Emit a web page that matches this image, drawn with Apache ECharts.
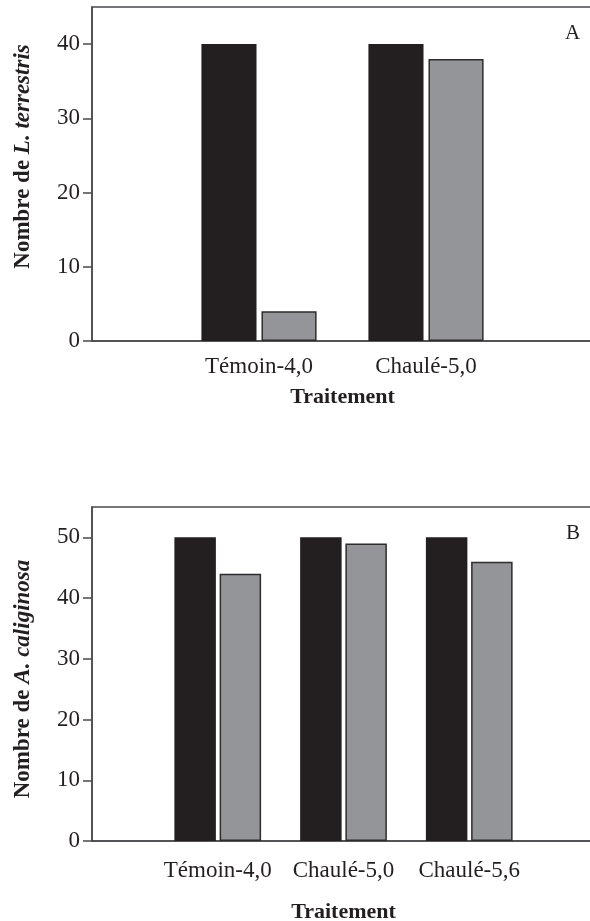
<!DOCTYPE html>
<html>
<head>
<meta charset="utf-8">
<script src="https://cdn.jsdelivr.net/npm/echarts@6/dist/echarts.min.js"></script>
<style>
html,body{margin:0;padding:0;background:#fff;overflow:hidden;}
#chart{width:590px;height:921px;}
</style>
</head>
<body>
<div id="chart"></div>
<script>
// Panel A data
var categoriesA = ['Témoin-4,0', 'Chaulé-5,0'];
var blackA = [40, 40];
var grayA = [4, 38];
var yTicksA = [0, 10, 20, 30, 40];

// Panel B data
var categoriesB = ['Témoin-4,0', 'Chaulé-5,0', 'Chaulé-5,6'];
var blackB = [50, 50, 50];
var grayB = [44, 49, 46];
var yTicksB = [0, 10, 20, 30, 40, 50];

var FONT = 'Liberation Serif';
var INK = '#231f20';
var AXIS = '#4a4a4c';
var GRAY = '#939598';

var chart = echarts.init(document.getElementById('chart'), null, {renderer: 'canvas'});

function xAxisFor(idx, cats, labelMargin, nameGap) {
  return {
    gridIndex: idx,
    type: 'category',
    boundaryGap: false,
    data: [''].concat(cats).concat(['']),
    axisLine: {lineStyle: {color: AXIS, width: 1.5}},
    axisTick: {show: false},
    axisLabel: {color: INK, fontFamily: FONT, fontSize: 23, margin: labelMargin, interval: 0},
    name: 'Traitement',
    nameLocation: 'middle',
    nameGap: nameGap,
    nameTextStyle: {color: INK, fontFamily: FONT, fontSize: 22, fontWeight: 'bold'}
  };
}

function yAxisFor(idx, max, ticks, species, pad) {
  return {
    gridIndex: idx,
    type: 'value',
    min: 0,
    max: max,
    interval: 10,
    splitLine: {show: false},
    axisLine: {show: true, lineStyle: {color: AXIS, width: 1.5}},
    axisTick: {show: true, inside: false, length: 9, lineStyle: {color: AXIS, width: 1.5}, customValues: ticks},
    axisLabel: {color: INK, fontFamily: FONT, fontSize: 23, margin: 12, customValues: ticks},
    name: '{n|Nombre de }{s|' + species + '}',
    nameLocation: 'middle',
    nameRotate: 90,
    nameGap: 57,
    nameTextStyle: {
      padding: pad,
      rich: {
        n: {color: INK, fontFamily: FONT, fontSize: 23, fontWeight: 'bold'},
        s: {color: INK, fontFamily: FONT, fontSize: 23, fontWeight: 'bold', fontStyle: 'italic'}
      }
    }
  };
}

function bars(idx, black, gray) {
  return [
    {
      type: 'bar', name: 'Série 1', xAxisIndex: idx, yAxisIndex: idx,
      data: [null].concat(black).concat([null]),
      barWidth: '33%', barGap: '9%',
      itemStyle: {color: INK},
      silent: true
    },
    {
      type: 'bar', name: 'Série 2', xAxisIndex: idx, yAxisIndex: idx,
      data: [null].concat(gray).concat([null]),
      barWidth: '33%', barGap: '9%',
      itemStyle: {color: GRAY, borderColor: '#2e2c2d', borderWidth: 1.5},
      silent: true
    }
  ];
}

chart.setOption({
  animation: false,
  backgroundColor: '#fff',
  title: [
    {text: 'A', left: 560, top: 18, textStyle: {color: INK, fontFamily: FONT, fontSize: 21, fontWeight: 'normal'}},
    {text: 'B', left: 561, top: 518, textStyle: {color: INK, fontFamily: FONT, fontSize: 21, fontWeight: 'normal'}}
  ],
  grid: [
    {left: 92, top: 7, width: 501, height: 334, show: true, borderColor: AXIS, borderWidth: 1.5, backgroundColor: 'transparent', containLabel: false, outerBoundsMode: 'none'},
    {left: 92, top: 507, width: 503, height: 334, show: true, borderColor: AXIS, borderWidth: 1.5, backgroundColor: 'transparent', containLabel: false, outerBoundsMode: 'none'}
  ],
  xAxis: [
    xAxisFor(0, categoriesA, 14, 45),
    xAxisFor(1, categoriesB, 18, 60)
  ],
  yAxis: [
    yAxisFor(0, 45, yTicksA, 'L. terrestris', [0, 0, 0, 35]),
    yAxisFor(1, 55, yTicksB, 'A. caliginosa', [0, 10, 0, 0])
  ],
  series: bars(0, blackA, grayA).concat(bars(1, blackB, grayB))
});
</script>
</body>
</html>
